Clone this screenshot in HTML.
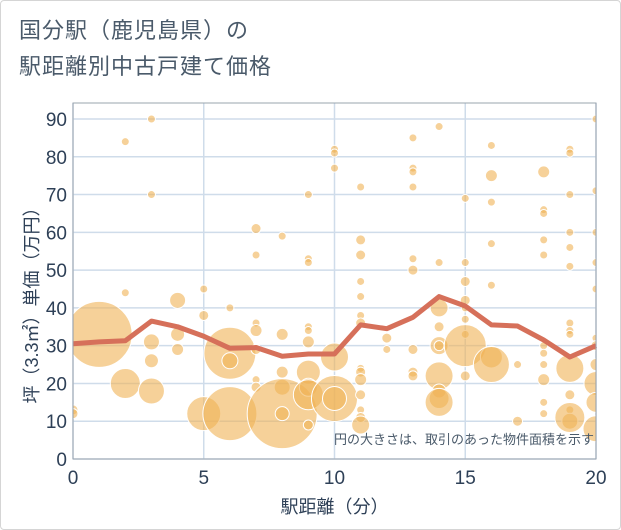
<!DOCTYPE html>
<html><head><meta charset="utf-8"><style>
body{margin:0;background:#fff;font-family:"Liberation Sans","Noto Sans CJK JP",sans-serif}
#card{position:absolute;left:0;top:0;width:619px;height:528px;border:1px solid #d5d5d5;border-radius:4px}
#title{position:absolute;left:19px;top:13px;font-size:22px;line-height:36px;color:#4a5a6a;letter-spacing:1px}
svg{position:absolute;left:0;top:0}
</style></head><body>
<div id="card"></div>
<div id="title">国分駅（鹿児島県）の<br>駅距離別中古戸建て価格</div>
<svg id="chart" width="621" height="530"></svg>
<script>
const xTicks=[0,5,10,15,20];
const yTicks=[0,10,20,30,40,50,60,70,80,90];
const lineX=[0,1,2,3,4,5,6,7,8,9,10,11,12,13,14,15,16,17,18,19,20];
const lineY=[30.5,31,31.3,36.5,35,32.5,29.3,29.5,27.2,27.8,27.8,35.5,34.5,37.5,43,40.5,35.5,35.2,31.5,27,30];
const bubX=[0,0,1,2,2,2,3,3,3,3,3,4,4,4,5,5,5,6,6,6,6,7,7,7,7,7,7,7,8,8,8,8,8,8,9,9,9,9,9,9,9,9,9,9,10,10,10,10,10,10,11,11,11,11,11,11,11,11,11,11,11,11,11,11,12,12,13,13,13,13,13,13,13,13,13,14,14,14,14,14,14,14,14,14,14,15,15,15,15,15,15,15,15,15,16,16,16,16,16,16,16,17,17,18,18,18,18,18,18,18,18,18,18,18,19,19,19,19,19,19,19,19,19,19,19,19,19,19,20,20,20,20,20,20,20,20,20,20,20];
const bubY=[13,12,33,84,44,20,90,70,31,26,18,42,33,29,45,38,12,40,28,26,12,61,54,36,34,29,21,19,59,33,23,19,12,12,70,53,52,35,34,31,23,19,9,17,82,81,77,27,16,16,72,58,54,47,43,38,36,24,23,21,17,13,11,9,32,29,85,77,76,72,53,50,29,23,22,88,52,40,35,30,30,22,18,16,15,69,52,47,42,40,37,33,30,22,83,75,68,57,46,27,25,25,10,76,66,65,58,54,30,28,25,21,15,12,82,81,70,60,56,51,36,34,33,24,17,13,10,11,90,71,60,52,45,32,30,25,20,15,8];
const bubR=[5,5,33,4,4,15,4,4,8,7,13,8,7,6,4,5,17,4,26,8,27,5,4,4,6,5,4,5,4,6,6,8,35,7,4,4,4,4,4,6,12,9,5,15,4,4,4,14,23,12,4,5,5,4,4,4,5,4,5,6,5,4,5,9,5,4,4,4,4,4,4,5,5,5,5,4,4,9,5,9,5,14,7,10,14,4,4,5,5,4,4,4,21,5,4,6,4,4,4,11,18,4,5,6,4,4,4,4,4,4,4,6,4,4,4,4,4,4,4,4,4,4,4,14,5,4,8,15,4,4,4,4,4,4,5,6,12,10,13];
const NS="http://www.w3.org/2000/svg";
const svg=document.getElementById('chart');
const L=73,R=596,T=103,B=459;
const sx=v=>L+v/20*(R-L);
const sy=v=>B-v/90*(B-119);
function mk(t,a){const e=document.createElementNS(NS,t);for(const k in a)e.setAttribute(k,a[k]);svg.appendChild(e);return e;}
const bg=mk('rect',{x:L,y:T,width:R-L,height:B-T,fill:'#fff'});


yTicks.forEach(v=>{
 const g=mk('line',{x1:L,x2:R,y1:sy(v),y2:sy(v),stroke:'#cfdcea','stroke-width':1.5});
 
 
 const t=mk('text',{x:L-6,y:sy(v)+7,'text-anchor':'end','font-size':19,fill:'#2e4057'});t.textContent=v;
 
 
});
xTicks.forEach(v=>{
 const g=mk('line',{x1:sx(v),x2:sx(v),y1:T,y2:B,stroke:'#cfdcea','stroke-width':1.5});
 
 
 const t=mk('text',{x:sx(v),y:B+25,'text-anchor':'middle','font-size':19,fill:'#2e4057'});t.textContent=v;
 
 
});
const defs=mk('defs',{});
const cp=document.createElementNS(NS,'clipPath');cp.setAttribute('id','clip');
const cr=document.createElementNS(NS,'rect');cr.setAttribute('x',L);cr.setAttribute('y',T);cr.setAttribute('width',R-L);cr.setAttribute('height',B-T);
cp.appendChild(cr);defs.appendChild(cp);
const gb=mk('g',{'clip-path':'url(#clip)'});
for(let i=0;i<bubX.length;i++){
 const c=document.createElementNS(NS,'circle');
 c.setAttribute('cx',sx(bubX[i]));c.setAttribute('cy',sy(bubY[i]));c.setAttribute('r',bubR[i]);
 c.setAttribute('fill','rgba(240,178,85,0.6)');c.setAttribute('stroke','#fff');c.setAttribute('stroke-width','1');
 
 
 gb.appendChild(c);
}
const pts=lineX.map((x,i)=>sx(x)+','+sy(lineY[i])).join(' ');
const pl=mk('polyline',{points:pts,fill:'none',stroke:'#d6705a','stroke-width':5,'stroke-linejoin':'round'});


const fr=mk('path',{d:`M${L},${T}H${R}V${B}H${L}Z`,fill:'none',stroke:'#9aa4ae','stroke-width':1});


const note=mk('text',{x:R-2,y:444,'text-anchor':'end','font-size':13,fill:'#4a5a6a'});note.textContent='円の大きさは、取引のあった物件面積を示す';


const xt=mk('text',{x:(L+R)/2,y:513,'text-anchor':'middle','font-size':18,fill:'#2e4057'});xt.textContent='駅距離（分）';


const yt=mk('text',{x:0,y:0,'text-anchor':'middle','font-size':18,fill:'#2e4057',transform:`translate(38,${(T+B)/2+20}) rotate(-90)`});yt.textContent='坪（3.3㎡）単価（万円）';


</script>
</body></html>
